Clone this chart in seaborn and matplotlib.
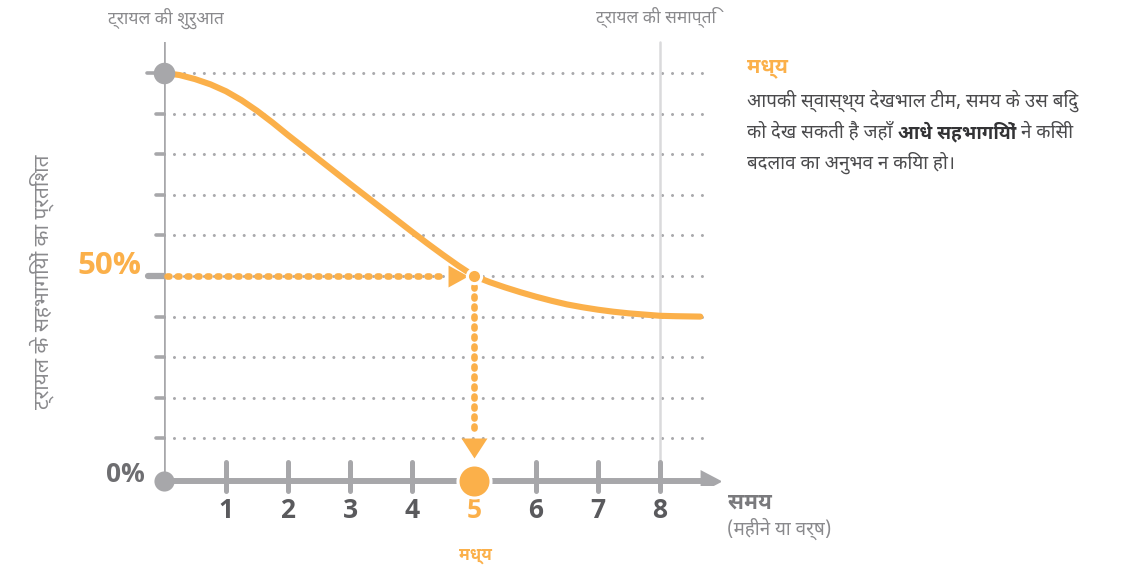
import numpy as np
import pandas as pd
import matplotlib
matplotlib.use("Agg")
import matplotlib.pyplot as plt
from matplotlib import font_manager
from matplotlib.ft2font import FT2Font
import seaborn as sns

# ---- data -------------------------------------------------------------
months = [0, 0.25, 0.5, 0.75, 1, 1.25, 1.5, 1.75, 2, 2.5, 3, 3.5, 4, 4.25,
          4.5, 4.75, 5, 5.25, 5.5, 5.75, 6, 6.25, 6.5, 6.75, 7, 7.25, 7.5,
          7.75, 8, 8.25, 8.65]
pct_unchanged = [100, 99.5, 98.5, 97.2, 95.5, 93.3, 90.7, 87.8, 84.7, 78.7,
                 72.7, 66.8, 60.9, 58.0, 55.2, 52.5, 50.0, 48.5, 47.2, 46.0,
                 44.9, 43.9, 43.0, 42.3, 41.7, 41.2, 40.8, 40.5, 40.2, 40.1,
                 40.0]
x_ticks = [1, 2, 3, 4, 5, 6, 7, 8]
grid_levels = [10, 20, 30, 40, 50, 60, 70, 80, 90, 100]
median_month = 5
median_pct = 50
trial_end = 8

label_start = "ट्रायल की शुरुआत"
label_end = "ट्रायल की समाप्ति"
y_title = "ट्रायल के सहभागियों का प्रतिशत"
x_title = "समय"
x_subtitle = "(महीने या वर्ष)"
median_word = "मध्य"
para_line1 = "आपकी स्वास्थ्य देखभाल टीम, समय के उस बिंदु"
para_line2 = ["को देख सकती है जहाँ", "आधे सहभागियों", "ने किसी"]
para_line3 = "बदलाव का अनुभव न किया हो।"

# ---- style ------------------------------------------------------------
ORANGE = "#FBB04A"
GRAY = "#A7A7AA"
LIGHT = "#DADADC"
DARK = "#5A5A5D"
TEXT = "#4A4A4C"
MUTED = "#8A8A8D"

sns.set_theme(style="white")


def devanagari_family():
    fonts = sorted(font_manager.fontManager.ttflist,
                   key=lambda f: ("Devanagari" not in f.name, "Noto" not in f.name))
    for f in fonts:
        try:
            if 0x0915 in FT2Font(f.fname).get_charmap():
                return f.name
        except Exception:
            continue
    return "DejaVu Sans"


DEVA = [devanagari_family(), "DejaVu Sans"]
NUM = ["Open Sans", "DejaVu Sans"]
plt.rcParams["font.family"] = DEVA

W, H = 1123, 569
fig = plt.figure(figsize=(W / 100, H / 100), dpi=100)

# axes placed so that month 0 / 0 % sits at the drawn origin
X0, PX_PER_MONTH = 164, 62
Y0, PX_PER_PCT = 479, 4.06
ax_left, ax_right, ax_top, ax_bottom = 164, 720, 40, 485
ax = fig.add_axes([ax_left / W, 1 - ax_bottom / H,
                   (ax_right - ax_left) / W, (ax_bottom - ax_top) / H])
ax.set_xlim(0, (ax_right - ax_left) / PX_PER_MONTH)
ax.set_ylim((Y0 - ax_bottom) / PX_PER_PCT, (Y0 - ax_top) / PX_PER_PCT)
ax.set_axis_off()


def fpx(x, y):
    return x / W, 1 - y / H


top = (Y0 - 42) / PX_PER_PCT
axis_y = -0.5

# dotted horizontal guides
for g in grid_levels:
    ax.plot([0, 8.77], [g, g], color="#A9A9AC", lw=2.2,
            linestyle=(0, (0.01, 3.25)), dash_capstyle="round", zorder=1)

# trial end marker line
ax.plot([trial_end, trial_end], [axis_y, top], color=LIGHT, lw=1.8, zorder=1)

# y axis with stubs
ax.plot([0, 0], [axis_y, top], color=GRAY, lw=2.6, zorder=2,
        solid_capstyle="butt")
for g in grid_levels:
    if g == median_pct:
        continue
    ax.plot([-0.13 if g != 100 else -0.27, 0], [g, g], color=GRAY, lw=2.6,
            clip_on=False, zorder=2, solid_capstyle="round")
ax.plot([-0.26, 0], [median_pct, median_pct], color=GRAY, lw=4.5,
        clip_on=False, zorder=2, solid_capstyle="round")

# x axis with arrow head
ax.plot([0, 8.75], [axis_y, axis_y], color=GRAY, lw=4.3, zorder=2,
        solid_capstyle="butt")
ax.plot([8.83], [axis_y], marker=[(-1, 1.05), (1, 0), (-1, -1.05)],
        ms=16.5, color=GRAY, mew=0, zorder=2)
for t in x_ticks:
    if t == median_month:
        continue
    ax.plot([t, t], [(Y0 - 462) / PX_PER_PCT, (Y0 - 491) / PX_PER_PCT],
            color=GRAY, lw=3.6, solid_capstyle="round", clip_on=False, zorder=3)

# survival-style curve
df = pd.DataFrame({"month": months, "pct": pct_unchanged})
sns.lineplot(data=df, x="month", y="pct", ax=ax, color=ORANGE, lw=4.4,
             zorder=4, sort=True, legend=False)
ax.lines[-1].set_solid_capstyle("round")
ax.lines[-1].set_solid_joinstyle("round")

# median guide lines
dots = (0, (0.3, 1.2))
ax.plot([0.05, 4.55], [median_pct, median_pct], color=ORANGE, lw=4.8,
        linestyle=dots, dash_capstyle="round", zorder=5)
ax.plot([4.74], [median_pct], marker=[(-1, 1.1), (1, 0), (-1, -1.1)],
        ms=15.8, color=ORANGE, mew=0, zorder=5)
ax.plot([median_month, median_month], [47.6, 11.5], color=ORANGE, lw=4.8,
        linestyle=dots, dash_capstyle="round", zorder=5)
ax.plot([median_month], [7.6], marker=[(-1.3, 1), (1.3, 1), (0, -1)],
        ms=18.7, color=ORANGE, mew=0, zorder=5)

# point markers
ax.plot([median_month], [median_pct], "o", ms=12.5, color="white", mew=0, zorder=6)
ax.plot([median_month], [median_pct], "o", ms=8, color=ORANGE, mew=0, zorder=7)
ax.plot([0], [100], "o", ms=15.5, color=GRAY, mew=0, zorder=7, clip_on=False)
ax.plot([0], [axis_y], "o", ms=14.5, color=GRAY, mew=0, zorder=7, clip_on=False)
ax.plot([median_month], [axis_y], "o", ms=26, color="white", mew=0, zorder=7,
        clip_on=False)
ax.plot([median_month], [axis_y], "o", ms=21.6, color=ORANGE, mew=0, zorder=8,
        clip_on=False)

# tick labels
for t in x_ticks:
    ax.text(t, (Y0 - 510) / PX_PER_PCT, str(t), ha="center", va="center",
            fontsize=19, fontweight="bold", family=NUM,
            color=ORANGE if t == median_month else DARK)
fig.text(*fpx(141, 266), "50%", ha="right", va="center", fontsize=22.5,
         fontweight="bold", family=NUM, color=ORANGE)
fig.text(*fpx(145, 474), "0%", ha="right", va="center", fontsize=19,
         fontweight="bold", family=NUM, color="#6E6E71")

# annotations
fig.text(*fpx(166, 18), label_start, ha="center", va="center", fontsize=12.5,
         color=MUTED)
fig.text(*fpx(656, 17), label_end, ha="center", va="center", fontsize=12.5,
         color=MUTED)
fig.text(*fpx(42, 282), y_title, ha="center", va="center", rotation=90,
         fontsize=15, color=MUTED)
fig.text(*fpx(728, 503), x_title, ha="left", va="center", fontsize=15.5,
         fontweight="bold", color="#7A7A7D")
fig.text(*fpx(727, 529), x_subtitle, ha="left", va="center", fontsize=13.5,
         color=MUTED)
fig.text(*fpx(475, 555), median_word, ha="center", va="center", fontsize=12,
         fontweight="bold", color=ORANGE)

# side note
fig.text(*fpx(747, 68), median_word, ha="left", va="center", fontsize=15,
         fontweight="bold", color=ORANGE)
fig.text(*fpx(747, 101), para_line1, ha="left", va="center", fontsize=13.5,
         color=TEXT)
renderer = fig.canvas.get_renderer()
x_cursor = 747
for i, piece in enumerate(para_line2):
    t = fig.text(*fpx(x_cursor, 132), piece, ha="left", va="center",
                 fontsize=13.5, color=TEXT if i != 1 else "#333335",
                 fontweight="bold" if i == 1 else "normal")
    bb = t.get_window_extent(renderer=renderer)
    x_cursor += bb.width + 5
fig.text(*fpx(747, 163), para_line3, ha="left", va="center", fontsize=13.5,
         color=TEXT)

fig.savefig("out.png", dpi=100, facecolor="white")
